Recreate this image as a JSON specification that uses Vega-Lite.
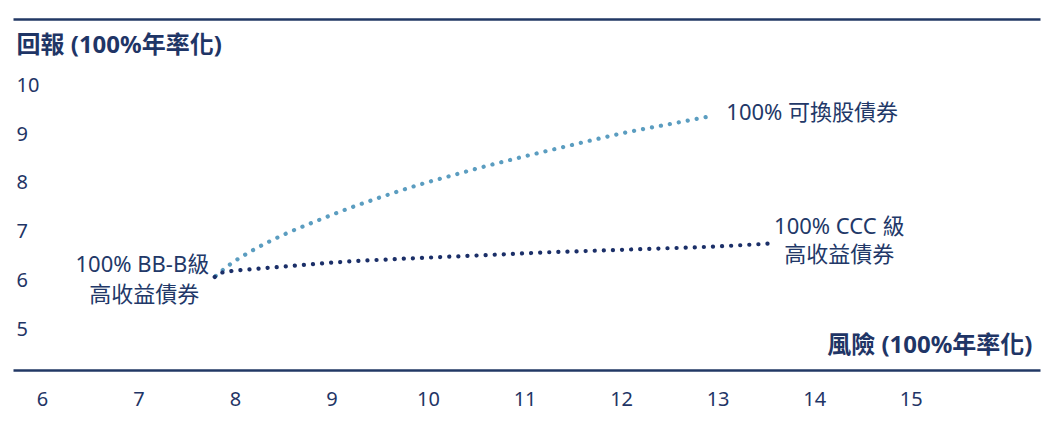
{
  "$schema": "https://vega.github.io/schema/vega-lite/v6.json",
  "autosize": {"type": "none"},
  "padding": {"left": 13, "top": 19, "right": 20, "bottom": 40},
  "width": 1027,
  "height": 351,
  "background": "white",
  "view": {"stroke": null},
  "config": {
    "font": "'Noto Sans', 'Noto Sans CJK TC', sans-serif",
    "axis": {"grid": false, "labelColor": "#1f3566", "titleColor": "#1f3566"}
  },
  "datasets": {
    "curves": [
      {"series": "可換股", "risk": 7.80, "ret": 6.10},
      {"series": "可換股", "risk": 7.93, "ret": 6.31},
      {"series": "可換股", "risk": 8.17, "ret": 6.61},
      {"series": "可換股", "risk": 8.50, "ret": 6.94},
      {"series": "可換股", "risk": 8.84, "ret": 7.22},
      {"series": "可換股", "risk": 9.19, "ret": 7.49},
      {"series": "可換股", "risk": 9.54, "ret": 7.73},
      {"series": "可換股", "risk": 9.90, "ret": 7.96},
      {"series": "可換股", "risk": 10.26, "ret": 8.16},
      {"series": "可換股", "risk": 10.61, "ret": 8.35},
      {"series": "可換股", "risk": 10.97, "ret": 8.53},
      {"series": "可換股", "risk": 11.35, "ret": 8.71},
      {"series": "可換股", "risk": 11.71, "ret": 8.88},
      {"series": "可換股", "risk": 12.07, "ret": 9.04},
      {"series": "可換股", "risk": 12.44, "ret": 9.18},
      {"series": "可換股", "risk": 12.89, "ret": 9.35},
      {"series": "CCC", "risk": 7.79, "ret": 6.08},
      {"series": "CCC", "risk": 7.84, "ret": 6.16},
      {"series": "CCC", "risk": 8.30, "ret": 6.26},
      {"series": "CCC", "risk": 8.67, "ret": 6.32},
      {"series": "CCC", "risk": 9.05, "ret": 6.38},
      {"series": "CCC", "risk": 9.71, "ret": 6.45},
      {"series": "CCC", "risk": 10.17, "ret": 6.49},
      {"series": "CCC", "risk": 10.75, "ret": 6.54},
      {"series": "CCC", "risk": 11.19, "ret": 6.58},
      {"series": "CCC", "risk": 11.78, "ret": 6.62},
      {"series": "CCC", "risk": 12.22, "ret": 6.65},
      {"series": "CCC", "risk": 12.95, "ret": 6.70},
      {"series": "CCC", "risk": 13.52, "ret": 6.76}
    ],
    "labels": [
      {"label": "100% 可換股債券", "risk": 13.98, "ret": 9.43},
      {"label": "100% CCC 級", "risk": 14.26, "ret": 7.10},
      {"label": "高收益債券", "risk": 14.26, "ret": 6.53},
      {"label": "100% BB-B級", "risk": 7.04, "ret": 6.33},
      {"label": "高收益債券", "risk": 7.06, "ret": 5.72}
    ]
  },
  "resolve": {"axis": {"x": "independent"}},
  "layer": [
    {
      "data": {"name": "curves"},
      "mark": {"type": "line", "strokeWidth": 4.2, "strokeCap": "round", "strokeDash": [0.1, 9], "interpolate": "monotone"},
      "encoding": {
        "x": {
          "field": "risk",
          "type": "quantitative",
          "scale": {"domain": [5.7, 16.34], "nice": false, "zero": false},
          "axis": {
            "orient": "bottom",
            "values": [6, 7, 8, 9, 10, 11, 12, 13, 14, 15],
            "ticks": false,
            "domain": true,
            "domainColor": "#223865",
            "domainWidth": 2.5,
            "labelPadding": 19,
            "labelFontSize": 20,
            "labelFlush": false,
            "title": "風險 (100%年率化)",
            "titleFontSize": 24,
            "titleFontWeight": "bold",
            "titleAlign": "right",
            "titleAnchor": "end",
            "titleBaseline": "middle",
            "titleX": 1019,
            "titleY": -25
          }
        },
        "y": {
          "field": "ret",
          "type": "quantitative",
          "scale": {"domain": [4.18, 11.35], "nice": false, "zero": false},
          "axis": {
            "orient": "left",
            "values": [5, 6, 7, 8, 9, 10],
            "ticks": false,
            "tickSize": 0,
            "domain": false,
            "labelAlign": "left",
            "labelBaseline": "middle",
            "labelPadding": -3,
            "labelFontSize": 20,
            "labelFlush": false,
            "title": "回報 (100%年率化)",
            "titleFontSize": 24,
            "titleFontWeight": "bold",
            "titleAngle": 0,
            "titleAlign": "left",
            "titleBaseline": "middle",
            "titleX": 3,
            "titleY": 26
          }
        },
        "color": {
          "field": "series",
          "type": "nominal",
          "scale": {"domain": ["可換股", "CCC"], "range": ["#5b9dc0", "#1b2f68"]},
          "legend": null
        },
        "order": {"field": "risk", "type": "quantitative"}
      }
    },
    {
      "data": {"name": "labels"},
      "mark": {"type": "text", "align": "center", "baseline": "middle", "fontSize": 22, "color": "#223868"},
      "encoding": {
        "x": {
          "field": "risk",
          "type": "quantitative",
          "axis": {"orient": "top", "labels": false, "ticks": false, "domain": true, "domainColor": "#223865", "domainWidth": 2.5, "title": null}
        },
        "y": {"field": "ret", "type": "quantitative"},
        "text": {"field": "label"}
      }
    }
  ]
}
